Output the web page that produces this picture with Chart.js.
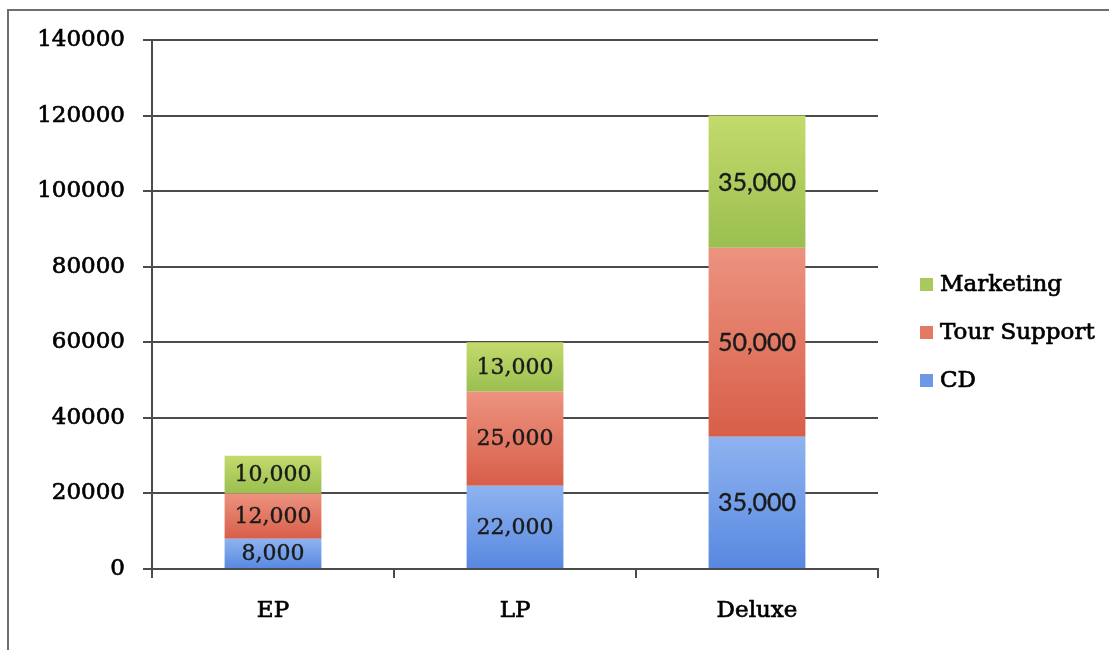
<!DOCTYPE html>
<html>
<head>
<meta charset="utf-8">
<script src="https://cdn.jsdelivr.net/npm/chart.js@4"></script>
<style>
  html, body { margin: 0; padding: 0; background: #fff; overflow: hidden; }
  #wrap { position: relative; width: 1109px; height: 650px; }
  #frame { position: absolute; left: 7px; top: 9px; width: 1200px; height: 800px; border: 2px solid #6e6e6e; box-sizing: border-box; }
  canvas { position: absolute; left: 0; top: 0; }
</style>
</head>
<body>
<div id="wrap">
  <div id="frame"></div>
  <canvas id="chart" width="1109" height="650"></canvas>
</div>
<script>
var categories = ['EP', 'LP', 'Deluxe'];
var cdValues = [8000, 22000, 35000];
var tourValues = [12000, 25000, 50000];
var marketingValues = [10000, 13000, 35000];
var yMax = 140000;
var yStep = 20000;

var axisColor = '#4b4b4b';
var serif = '"DejaVu Serif", serif';

// vertical gradient per stacked segment, light at the top
function segmentFill(top, bottom) {
	return function(ctx) {
		var chart = ctx.chart;
		var y = chart.scales.y;
		if (ctx.type !== 'data' || !y || !chart.chartArea) return bottom;
		var sets = chart.data.datasets;
		var lo = 0;
		for (var i = 0; i < ctx.datasetIndex; i++) lo += sets[i].data[ctx.dataIndex];
		var hi = lo + sets[ctx.datasetIndex].data[ctx.dataIndex];
		var g = chart.ctx.createLinearGradient(0, y.getPixelForValue(hi), 0, y.getPixelForValue(lo));
		g.addColorStop(0, top);
		g.addColorStop(1, bottom);
		return g;
	};
}

// text with a thin outline so it reads as heavy as the axis labels
function heavyText(c, txt, x, y, w) {
	c.lineWidth = w;
	c.strokeStyle = c.fillStyle;
	c.strokeText(txt, x, y);
	c.fillText(txt, x, y);
}

// value in the middle of each segment
var segmentLabels = {
	id: 'segmentLabels',
	afterDatasetsDraw: function(chart) {
		var c = chart.ctx;
		c.save();
		c.textAlign = 'center';
		c.textBaseline = 'middle';
		c.fillStyle = '#1a1a1a';
		chart.data.datasets.forEach(function(ds, di) {
			chart.getDatasetMeta(di).data.forEach(function(bar, i) {
				var p = bar.getProps(['x', 'y', 'base'], true);
				c.font = i === 2 ? '25px Lato, sans-serif' : '22px ' + serif;
				heavyText(c, ds.data[i].toLocaleString('en-US'), p.x, (p.y + p.base) / 2 + 1, 0.4);
			});
		});
		c.restore();
	}
};

// legend at the right, last series on top
var sideLegend = {
	id: 'sideLegend',
	afterDraw: function(chart) {
		var c = chart.ctx;
		var sets = chart.data.datasets.slice().reverse();
		c.save();
		c.font = '23px ' + serif;
		c.textBaseline = 'middle';
		c.textAlign = 'left';
		sets.forEach(function(ds, k) {
			var cy = 284 + k * 48;
			c.fillStyle = ds.swatch;
			c.fillRect(920, cy - 6, 13, 13);
			c.fillStyle = '#000';
			heavyText(c, ds.label, 940, cy + 1, 0.7);
		});
		c.restore();
	}
};

var chart = new Chart(document.getElementById('chart'), {
	type: 'bar',
	data: {
		labels: categories,
		datasets: [{
			label: 'CD',
			data: cdValues,
			swatch: '#6c98e6',
			backgroundColor: segmentFill('#8fb3f0', '#5788e0')
		}, {
			label: 'Tour Support',
			data: tourValues,
			swatch: '#e57a64',
			backgroundColor: segmentFill('#ec9380', '#d85e48')
		}, {
			label: 'Marketing',
			data: marketingValues,
			swatch: '#a9c95c',
			backgroundColor: segmentFill('#c4da6c', '#9abf50')
		}]
	},
	options: {
		responsive: false,
		animation: false,
		layout: {
			padding: {top: 40, right: 231, bottom: 0, left: 0}
		},
		plugins: {
			legend: {display: false},
			tooltip: {enabled: false}
		},
		datasets: {
			bar: {barPercentage: 0.4, categoryPercentage: 1.0, borderWidth: 0}
		},
		scales: {
			x: {
				stacked: true,
				afterFit: function(scale) { scale.height = 81; },
				grid: {
					offset: true,
					drawOnChartArea: false,
					color: axisColor,
					lineWidth: 2,
					tickLength: 9
				},
				border: {display: true, color: axisColor, width: 2},
				ticks: {
					color: '#000',
					textStrokeColor: '#000',
					textStrokeWidth: 0.7,
					padding: 19,
					font: {family: serif, size: 23}
				}
			},
			y: {
				stacked: true,
				min: 0,
				max: yMax,
				afterFit: function(scale) { scale.width = 152; },
				grid: {
					color: axisColor,
					lineWidth: 2,
					tickLength: 9
				},
				border: {display: true, color: axisColor, width: 2},
				ticks: {
					stepSize: yStep,
					color: '#000',
					textStrokeColor: '#000',
					textStrokeWidth: 0.7,
					padding: 18,
					font: {family: serif, size: 23},
					callback: function(v) { return String(v); }
				}
			}
		}
	},
	plugins: [segmentLabels, sideLegend]
});
</script>
</body>
</html>
